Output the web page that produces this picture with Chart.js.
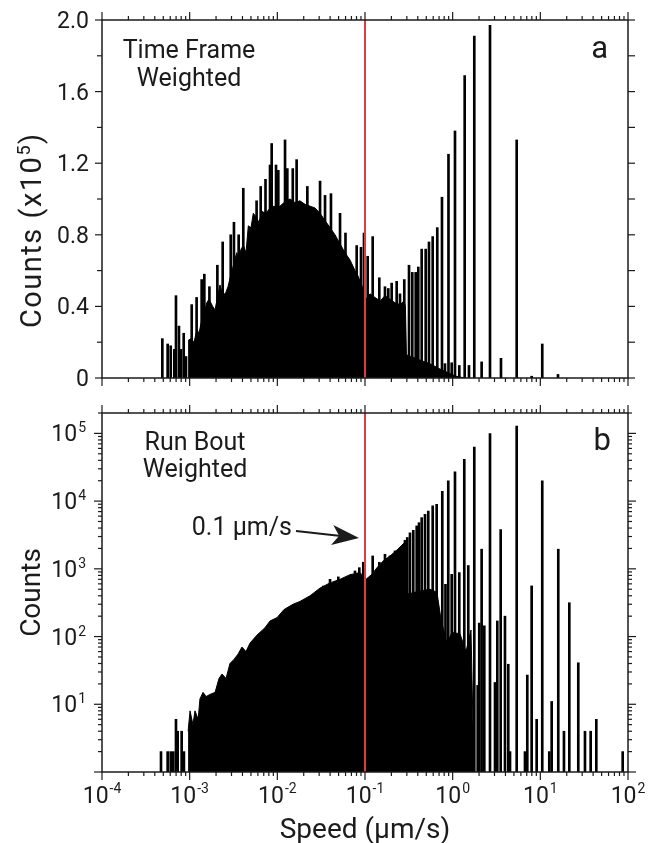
<!DOCTYPE html>
<html>
<head>
<meta charset="utf-8">
<script src="https://cdn.jsdelivr.net/npm/chart.js@4.4.1/dist/chart.umd.min.js"></script>
<style>
  html, body { margin: 0; padding: 0; background: #fff; }
  #wrap { position: relative; width: 658px; height: 843px; }
  canvas { position: absolute; left: 0; }
  #chartFrame { top: 0; }
  #chartBout { top: 398px; }
</style>
</head>
<body>
<div id="wrap">
  <canvas id="chartFrame" width="658" height="398"></canvas>
  <canvas id="chartBout" width="658" height="445"></canvas>
</div>
<script>
// (a) time frame weighted, counts in units of 1e5
const frameBodySpeed = [0.00096, 0.001036, 0.00112, 0.001212, 0.001278, 0.001382, 0.001457, 0.001564, 0.001662, 0.001831,
  0.001945, 0.002077, 0.002218, 0.002368, 0.00255, 0.002737, 0.002961, 0.003121, 0.003439, 0.003653,
  0.00385, 0.004111, 0.00439, 0.004665, 0.005006, 0.005318, 0.005709, 0.006177, 0.006683, 0.007427,
  0.00825, 0.00916, 0.01017, 0.0113, 0.01256, 0.01394, 0.0159, 0.0181, 0.02068, 0.0236,
  0.0269, 0.0307, 0.035, 0.0399, 0.0455, 0.0519, 0.0591, 0.0674, 0.0769, 0.0832,
  0.0949, 0.1026, 0.114, 0.130, 0.149, 0.169, 0.193, 0.220, 0.251, 0.2785,
  0.289, 0.297, 0.424, 0.551, 0.717, 0.884, 1.09, 1.38];
const frameBodyCounts = [0.21, 0.22, 0.20, 0.27, 0.25, 0.33, 0.36, 0.42, 0.44, 0.40,
  0.38, 0.45, 0.52, 0.47, 0.47, 0.51, 0.58, 0.62, 0.70, 0.66,
  0.72, 0.74, 0.70, 0.85, 0.84, 0.92, 0.90, 0.87, 0.93, 0.92,
  0.95, 0.96, 0.95, 0.97, 0.99, 1.00, 0.98, 0.99, 0.97, 0.96,
  0.95, 0.92, 0.88, 0.84, 0.80, 0.75, 0.70, 0.66, 0.60, 0.57,
  0.50, 0.44, 0.47, 0.45, 0.43, 0.46, 0.44, 0.42, 0.41, 0.43,
  0.40, 0.13, 0.10, 0.08, 0.05, 0.03, 0.01, 0];
const frameSpikeSpeed = [0.000488, 0.000561, 0.000608, 0.000668, 0.000698, 0.000755, 0.000796, 0.000855, 0.000908,
  0.001055, 0.00120, 0.00137, 0.00147, 0.00168, 0.00207, 0.00238, 0.00294, 0.00320, 0.00362,
  0.00409, 0.0058, 0.00646, 0.00733, 0.00825, 0.00862, 0.00966, 0.01026, 0.01224, 0.0130,
  0.0150, 0.0166, 0.0220, 0.0307, 0.0350, 0.0409, 0.0519, 0.0599, 0.0804, 0.0900,
  0.0974, 0.1073, 0.1224, 0.1456, 0.169, 0.1844, 0.2015, 0.2298, 0.2507, 0.2806,
  0.3177, 0.3463, 0.3786, 0.4055, 0.4432, 0.4923, 0.5368, 0.5918, 0.6676, 0.7554,
  0.817, 0.896, 0.975, 1.063, 1.19, 1.371, 1.535, 1.765, 2.14, 2.666,
  3.557, 5.374, 7.96, 10.52, 15.9];
const frameSpikeCounts = [0.22, 0.19, 0.18, 0.16, 0.46, 0.29, 0.16, 0.25, 0.12,
  0.41, 0.45, 0.55, 0.58, 0.51, 0.63, 0.76, 0.80, 0.87, 0.80,
  1.06, 0.99, 1.07, 1.11, 1.19, 1.31, 1.19, 1.16, 1.33, 1.17,
  1.17, 1.22, 1.07, 1.10, 1.02, 1.03, 0.92, 0.81, 0.74, 0.73,
  0.81, 0.68, 0.79, 0.56, 0.51, 0.50, 0.53, 0.54, 0.47, 0.55,
  0.63, 0.59, 0.59, 0.62, 0.72, 0.72, 0.76, 0.79, 0.84, 1.01,
  0.08, 1.25, 0.085, 1.38, 0.07, 1.69, 0.07, 1.91, 0.09, 1.97,
  0.11, 1.33, 0.01, 0.19, 0.02];

// (b) run bout weighted, raw counts
const boutBodySpeed = [0.00096, 0.00101, 0.00109, 0.00115, 0.00125, 0.00131, 0.00142, 0.00154, 0.00171, 0.00195,
  0.00216, 0.00234, 0.00260, 0.00288, 0.00320, 0.00356, 0.00395, 0.00439, 0.00488, 0.00586,
  0.00723, 0.00825, 0.00991, 0.0119, 0.0151, 0.0181, 0.0236, 0.0307, 0.0399, 0.0519,
  0.0674, 0.0877, 0.1026, 0.120, 0.137, 0.1605, 0.193, 0.2317, 0.2785, 0.289,
  0.297, 0.424, 0.551, 0.662, 0.736, 0.861, 0.982, 1.212, 1.419, 1.618, 1.75];
const boutBodyCounts = [4, 8, 5, 8, 6, 12, 15, 13, 14, 15,
  24, 28, 24, 40, 46, 55, 70, 60, 80, 105,
  135, 170, 190, 250, 300, 330, 400, 520, 620, 700,
  820, 880, 700, 830, 1040, 1300, 1550, 1900, 2400, 2400,
  420, 470, 500, 450, 180, 80, 115, 110, 60, 125, 1];
const boutSpikeSpeed = [0.000471, 0.000561, 0.000608, 0.00065, 0.000698, 0.00073, 0.00081, 0.00086,
  0.0334, 0.0399, 0.0496, 0.0769, 0.0861, 0.0956, 0.1224, 0.1456, 0.169, 0.193, 0.220, 0.2507,
  0.286, 0.3036, 0.326, 0.3555, 0.3887, 0.413, 0.4432, 0.4834, 0.527, 0.5918,
  0.657, 0.7614, 0.828, 0.891, 0.975, 1.063, 1.19, 1.357, 1.507, 1.765,
  1.93, 2.01, 2.14, 2.295, 2.666, 3.04, 3.23, 3.53, 3.95, 4.31,
  4.51, 5.374, 6.68, 7.10, 7.96, 9.08, 10.52, 12.65, 13.47, 16.02,
  18.6, 21.4, 27.1, 32.3, 37.5, 43.5, 87.0];
const boutSpikeCounts = [2, 2, 2, 2, 6, 4, 4, 2,
  556, 700, 760, 930, 1040, 1250, 1550, 1250, 1640, 1550, 1840, 1950,
  2640, 2900, 3400, 3700, 4300, 4800, 5700, 6400, 7100, 8500,
  9000, 14000, 590, 20000, 830, 27000, 880, 41500, 1120, 63000,
  19, 158, 1950, 144, 99000, 21, 170, 3800, 200, 39,
  2, 128000, 2, 27, 560, 6, 20000, 2, 11, 1950,
  4, 316, 41, 4, 4, 6, 2];

// axes
const speedDecades = [-4, -3, -2, -1, 0, 1, 2];
const minorSteps = [2, 3, 4, 5, 6, 7, 8, 9];
const frameTicks = [0, 0.4, 0.8, 1.2, 1.6, 2.0];
const frameTickLabels = ['0', '0.4', '0.8', '1.2', '1.6', '2.0'];
const frameMinorTicks = [0.2, 0.6, 1.0, 1.4, 1.8];
const boutDecades = [0, 1, 2, 3, 4, 5];
const boutLabelDecades = [1, 2, 3, 4, 5];
const markerSpeed = 0.1;
const speedMin = 1e-4, speedMax = 100;
const frameMax = 2.0;
const boutMin = 1, boutMax = 2e5;

const INK = '#1b1b1b';
const RED = '#e23b3f';
const FONT = 'Roboto, "Noto Sans", sans-serif';
const f = s => s + 'px ' + FONT;

function pairs(xs, ys) { return xs.map((x, i) => ({x, y: ys[i]})); }

function line(ctx, x1, y1, x2, y2) {
  ctx.beginPath(); ctx.moveTo(x1, y1); ctx.lineTo(x2, y2); ctx.stroke();
}

function drawPower(ctx, exp, x, baseY, size, supSize, rise, align) {
  ctx.font = f(size);
  const wb = ctx.measureText('10').width;
  ctx.font = f(supSize);
  const ws = ctx.measureText(exp).width;
  const total = wb + 1 + ws;
  const left = align === 'center' ? x - total / 2 : x - total;
  ctx.textAlign = 'left';
  ctx.textBaseline = 'alphabetic';
  ctx.font = f(size);
  ctx.fillText('10', left, baseY);
  ctx.font = f(supSize);
  ctx.fillText(exp, left + wb + 1, baseY - rise);
}

// text pieces drawn one glyph at a time with a little tracking: [text, size, rise]
function drawSpaced(ctx, pieces, cx, y, spacing) {
  const glyphs = [];
  pieces.forEach(([t, size, rise]) => {
    ctx.font = f(size);
    for (const ch of t) glyphs.push({ch, size, rise, w: ctx.measureText(ch).width});
  });
  const total = glyphs.reduce((s, g) => s + g.w, 0) + spacing * (glyphs.length - 1);
  let gx = cx - total / 2;
  ctx.textAlign = 'left';
  ctx.textBaseline = 'alphabetic';
  glyphs.forEach(g => {
    ctx.font = f(g.size);
    ctx.fillText(g.ch, gx, y - g.rise);
    gx += g.w + spacing;
  });
}

function drawFrameAndXTicks(chart) {
  const {ctx, chartArea: a, scales: {x}} = chart;
  ctx.strokeStyle = INK;
  ctx.lineWidth = 1.5;
  ctx.strokeRect(a.left, a.top, a.right - a.left, a.bottom - a.top);
  ctx.lineWidth = 1.2;
  speedDecades.forEach((e, i) => {
    const px = x.getPixelForValue(Math.pow(10, e));
    line(ctx, px, a.top, px, a.top - 8);
    line(ctx, px, a.bottom, px, a.bottom + 8);
    if (i === speedDecades.length - 1) return;
    minorSteps.forEach(m => {
      const p = x.getPixelForValue(m * Math.pow(10, e));
      line(ctx, p, a.top, p, a.top - 4);
      line(ctx, p, a.bottom, p, a.bottom + 4);
    });
  });
}

function drawCenteredLines(ctx, lines, cx, y0, step, size) {
  ctx.font = f(size);
  ctx.textAlign = 'center';
  ctx.textBaseline = 'alphabetic';
  lines.forEach((t, i) => ctx.fillText(t, cx, y0 + i * step));
}

const framePanel = {
  id: 'framePanel',
  afterDraw(chart) {
    const {ctx, chartArea: a, scales: {y}} = chart;
    ctx.save();
    drawFrameAndXTicks(chart);
    frameTicks.forEach(v => {
      const py = y.getPixelForValue(v);
      line(ctx, a.left, py, a.left - 7, py);
      line(ctx, a.right, py, a.right + 7, py);
    });
    frameMinorTicks.forEach(v => {
      const py = y.getPixelForValue(v);
      line(ctx, a.left, py, a.left - 5, py);
      line(ctx, a.right, py, a.right + 7, py);
    });
    ctx.fillStyle = INK;
    ctx.font = f(23);
    ctx.textAlign = 'right';
    ctx.textBaseline = 'alphabetic';
    frameTicks.forEach((v, i) => {
      ctx.fillText(frameTickLabels[i], a.left - 13, y.getPixelForValue(v) + 8);
    });
    ctx.save();
    ctx.translate(41, (a.top + a.bottom) / 2 + 32);
    ctx.rotate(-Math.PI / 2);
    drawSpaced(ctx, [['Counts (x10', 29, 0], ['5', 18, 11], [')', 29, 0]], 0, 0, 1.5);
    ctx.restore();
    drawCenteredLines(ctx, ['Time Frame', 'Weighted'], a.left + 87, a.top + 38, 28, 25);
    ctx.font = f(31);
    ctx.textAlign = 'right';
    ctx.fillText('a', a.right - 20, a.top + 38);
    ctx.restore();
  }
};

const boutPanel = {
  id: 'boutPanel',
  afterDraw(chart) {
    const {ctx, chartArea: a, scales: {x, y}} = chart;
    ctx.save();
    drawFrameAndXTicks(chart);
    boutDecades.forEach(e => {
      const py = y.getPixelForValue(Math.pow(10, e));
      line(ctx, a.left, py, a.left - 8, py);
      line(ctx, a.right, py, a.right + 8, py);
      minorSteps.forEach(m => {
        const v = m * Math.pow(10, e);
        if (v > boutMax) return;
        const p = y.getPixelForValue(v);
        line(ctx, a.left, p, a.left - 4, p);
        line(ctx, a.right, p, a.right + 4, p);
      });
    });
    ctx.fillStyle = INK;
    boutLabelDecades.forEach(e => {
      const py = y.getPixelForValue(Math.pow(10, e));
      drawPower(ctx, String(e), a.left - 16, py + 8, 23, 14, 9, 'right');
    });
    speedDecades.forEach(e => {
      const px = x.getPixelForValue(Math.pow(10, e));
      drawPower(ctx, String(e), px, a.bottom + 31, 23, 14, 10, 'center');
    });
    ctx.font = f(28);
    ctx.textAlign = 'center';
    ctx.fillText('Speed (\u00b5m/s)', (a.left + a.right) / 2, a.bottom + 66);
    ctx.save();
    ctx.translate(40, (a.top + a.bottom) / 2);
    ctx.rotate(-Math.PI / 2);
    ctx.fillText('Counts', 0, 0);
    ctx.restore();
    drawCenteredLines(ctx, ['Run Bout', 'Weighted'], a.left + 93, a.top + 37, 27, 25);
    ctx.font = f(31);
    ctx.textAlign = 'right';
    ctx.fillText('b', a.right - 17, a.top + 37);
    // 0.1 um/s callout with arrow
    ctx.font = f(25);
    ctx.textAlign = 'right';
    ctx.fillText('0.1 \u00b5m/s', a.left + 190, a.top + 122);
    const tipX = x.getPixelForValue(markerSpeed) - 6, tipY = a.top + 125;
    const sx0 = a.left + 194, sy0 = a.top + 118;
    const ang = Math.atan2(tipY - sy0, tipX - sx0);
    const cos = Math.cos(ang), sin = Math.sin(ang);
    const pt = (along, side) => [tipX - along * cos - side * sin, tipY - along * sin + side * cos];
    ctx.strokeStyle = INK;
    ctx.lineWidth = 2.2;
    const end = pt(18, 0);
    line(ctx, sx0, sy0, end[0], end[1]);
    ctx.beginPath();
    ctx.moveTo(tipX, tipY);
    let p = pt(27, -10); ctx.lineTo(p[0], p[1]);
    p = pt(20, 0); ctx.lineTo(p[0], p[1]);
    p = pt(27, 10); ctx.lineTo(p[0], p[1]);
    ctx.closePath();
    ctx.fill();
    ctx.restore();
  }
};

function buildPanel(canvasId, body, spikes, yScale, padding, plugin) {
  return new Chart(document.getElementById(canvasId), {
    type: 'line',
    data: {
      datasets: [
        { type: 'line', data: [{x: markerSpeed, y: yScale.min}, {x: markerSpeed, y: yScale.max}],
          borderColor: RED, borderWidth: 2, pointRadius: 0, fill: false, order: 0 },
        { type: 'bar', data: spikes, backgroundColor: '#000', borderWidth: 0,
          barThickness: 2, order: 1 },
        { type: 'line', data: body, borderColor: '#000', backgroundColor: '#000',
          borderWidth: 1, pointRadius: 0, tension: 0, fill: 'start', order: 2 }
      ]
    },
    options: {
      responsive: false,
      animation: false,
      layout: { padding },
      plugins: { legend: { display: false }, tooltip: { enabled: false } },
      scales: {
        x: { type: 'logarithmic', min: speedMin, max: speedMax, display: false, offset: false },
        y: Object.assign({ display: false }, yScale)
      }
    },
    plugins: [plugin]
  });
}

buildPanel('chartFrame',
  pairs(frameBodySpeed, frameBodyCounts),
  pairs(frameSpikeSpeed, frameSpikeCounts),
  { type: 'linear', min: 0, max: frameMax },
  { left: 102, right: 30, top: 20, bottom: 20 },
  framePanel);

buildPanel('chartBout',
  pairs(boutBodySpeed, boutBodyCounts),
  pairs(boutSpikeSpeed, boutSpikeCounts),
  { type: 'logarithmic', min: boutMin, max: boutMax },
  { left: 102, right: 30, top: 15, bottom: 71 },
  boutPanel);
</script>
</body>
</html>
